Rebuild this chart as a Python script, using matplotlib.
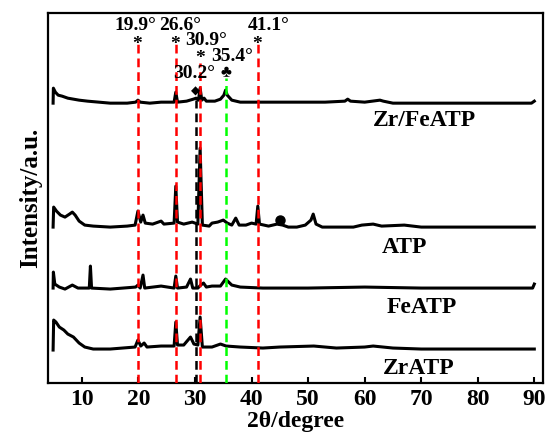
import matplotlib
matplotlib.use("Agg")
import matplotlib.pyplot as plt

plt.rcParams['font.family'] = ['Liberation Serif', 'DejaVu Sans']
plt.rcParams['font.weight'] = 'bold'
plt.rcParams['mathtext.fontset'] = 'custom'
plt.rcParams['mathtext.bf'] = 'Liberation Serif:bold'
plt.rcParams['mathtext.rm'] = 'Liberation Serif:bold'

# XRD traces, values (already stacked)
zrfe_x = [4.9, 4.95, 5.3, 5.8, 6.5, 7.5, 8.5, 9.5, 11, 13, 15, 18, 19.5, 19.9, 20.3, 22, 24,
          26.3, 26.6, 26.9, 28.5, 29.7, 30.2, 30.6, 30.9, 31.2, 31.6, 32, 33.5, 34.5, 35.1, 35.4,
          35.7, 36.5, 38, 40, 44, 50, 53, 56.5, 57, 57.5, 60, 62.7, 63.3, 65, 70, 80, 89.5, 90]
zrfe_y = [280, 295, 291, 288, 287, 285, 284, 283, 282, 281, 280, 280, 281, 283, 281, 280, 281,
          281, 291, 281, 282, 284, 285, 283, 295, 283, 285, 282, 282, 284, 288, 293,
          288, 283, 281, 281, 281, 281, 281, 282, 284, 282, 281, 283, 282, 280, 280, 280, 280, 282]

atp_x = [4.9, 5.0, 5.5, 6.2, 7.0, 7.8, 8.3, 8.8, 9.5, 10.5, 12, 15, 18, 19.4, 19.9, 20.4, 20.8,
         21.2, 22.5, 24, 24.5, 26.3, 26.6, 26.9, 28, 29.5, 30.5, 30.9, 31.3, 32.5, 33, 34, 35,
         35.7, 36.5, 37.2, 37.8, 39, 40, 40.8, 41.1, 41.4, 43, 44.5, 45.5, 46.5, 48, 49.5, 50.5,
         50.9, 51.4, 52.5, 55, 58, 59.5, 61.5, 63, 67, 70, 75, 80, 85, 90]
atp_y = [156, 176, 172, 168, 166, 169, 171, 168, 162, 158, 157, 156, 157, 158, 172, 161, 168,
         160, 159, 162, 159, 160, 197, 161, 159, 161, 159, 235, 158, 157, 160, 161, 163,
         160, 158, 165, 158, 158, 160, 159, 177, 159, 157, 159, 158, 156, 156, 158, 163,
         169, 159, 156, 156, 156, 158, 159, 157, 158, 156, 156, 156, 156, 156]

fe_x = [4.9, 4.95, 5.2, 6, 7, 8.3, 9.3, 11.3, 11.5, 11.7, 15, 19.5, 19.9, 20.3, 20.8, 21.1, 24,
        26.3, 26.6, 26.9, 28.5, 29.2, 29.6, 30.5, 31, 31.5, 32, 33, 34.5, 35.4, 36.5, 38, 42,
        50, 60, 70, 80, 89.7, 90]
fe_y = [95, 111, 99, 96, 94, 98, 95, 95, 117, 95, 94, 96, 98, 95, 108, 95, 97,
        95, 107, 95, 96, 104, 95, 95, 98, 100, 96, 97, 97, 104, 98, 96, 95,
        95, 96, 95, 95, 95, 99]

zr_x = [4.9, 5.0, 5.4, 6, 6.8, 7.5, 8.5, 9.5, 10.5, 12, 15, 19.4, 19.9, 20.4, 21, 21.5, 24,
        26.3, 26.6, 26.9, 28, 29.2, 29.8, 30.5, 30.9, 31.3, 33, 34.5, 35.5, 38, 42, 45, 51, 55,
        60, 61.5, 65, 70, 80, 90]
zr_y = [33, 63, 61, 56, 53, 49, 46, 40, 36, 34, 34, 36, 43, 37, 40, 36, 37,
        37, 61, 38, 38, 46, 39, 38, 66, 36, 36, 39, 37, 36, 35, 36, 37, 35,
        36, 37, 35, 34, 34, 34]

# reference lines: position, top, colour
ref_pos = [19.9, 26.6, 30.9, 41.1, 30.2, 35.4]
ref_top = [339, 339, 320, 339, 283, 305]
ref_col = ['red', 'red', 'red', 'red', 'black', 'lime']

fig = plt.figure(figsize=(5.55, 4.4), dpi=100)
ax = fig.add_axes([0.0865, 0.1295, 0.8915, 0.8405])

for xs, ys in [(zrfe_x, zrfe_y), (atp_x, atp_y), (fe_x, fe_y), (zr_x, zr_y)]:
    ax.plot(xs, ys, color='black', lw=2.2, solid_joinstyle='round', zorder=2)
ax.plot([45], [163], 'o', color='black', ms=6.5, zorder=2)

for p, t, c in zip(ref_pos, ref_top, ref_col):
    ax.plot([p, p], [0, t], color=c, lw=1.8, ls=(0, (3.5, 2)), zorder=3)

# peak labels
fs = 14
ax.text(19.5, 358, '19.9°', ha='center', va='center', fontsize=fs)
ax.text(27.3, 358, '26.6°', ha='center', va='center', fontsize=fs)
ax.text(43.0, 358, '41.1°', ha='center', va='center', fontsize=fs)
ax.text(31.9, 343, '30.9°', ha='center', va='center', fontsize=fs)
ax.text(36.5, 327, '35.4°', ha='center', va='center', fontsize=fs)
ax.text(29.8, 310, '30.2°', ha='center', va='center', fontsize=fs)
for p, y in [(19.9, 341), (26.6, 341), (41.1, 341), (30.9, 327)]:
    ax.text(p, y, r'$\mathbf{*}$', ha='center', va='center', fontsize=fs)
ax.text(35.4, 310, '♣', ha='center', va='center', fontsize=12)
ax.text(30.0, 292, '◆', ha='center', va='center', fontsize=8.5, family=['DejaVu Sans'])

# series names
ax.text(70.6, 263, 'Zr/FeATP', ha='center', va='center', fontsize=17)
ax.text(67.1, 136, 'ATP', ha='center', va='center', fontsize=17)
ax.text(70.1, 76, 'FeATP', ha='center', va='center', fontsize=17)
ax.text(69.5, 15, 'ZrATP', ha='center', va='center', fontsize=17)

ax.set_xlim(4, 91.5)
ax.set_ylim(0, 370)
ax.set_xticks(range(10, 100, 10))
ax.set_yticks([])
ax.tick_params(axis='x', direction='in', length=4, width=1.5, labelsize=17, pad=4)
for s in ax.spines.values():
    s.set_linewidth(1.6)
ax.set_xlabel('2θ/degree', fontsize=17, fontweight='bold', labelpad=1)
ax.set_ylabel('Intensity/a.u.', fontsize=18, fontweight='bold', labelpad=4)

fig.savefig('out.png', dpi=100)
